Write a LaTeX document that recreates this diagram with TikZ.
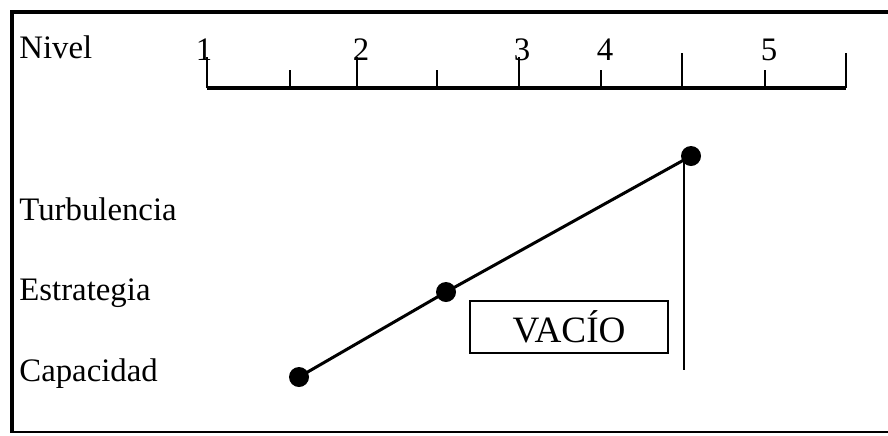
\documentclass[tikz,border=0pt]{standalone}
\usepackage{fontspec}
\setmainfont{Liberation Serif}
\usetikzlibrary{positioning}

\begin{document}
\begin{tikzpicture}[x=0.5pt, y=-0.5pt, line cap=butt,
  etiqueta/.style={anchor=base west, inner sep=0pt, font=\fontsize{16.4}{19}\selectfont},
  cifra/.style={anchor=base, inner sep=0pt, font=\fontsize{16.4}{19}\selectfont},
  punto/.style={circle, fill, inner sep=0pt, minimum size=10pt}]
\useasboundingbox (0,0) rectangle (888,435);
% 边框
\draw[line width=2.4pt] (888,12) -- (12,12) -- (12,433);
\draw[line width=1pt] (12,432) -- (888,432);
% 标尺
\draw[line width=2pt] (207,88) -- (846,88);
\foreach \x/\t in {207/57, 290/70, 357/57, 437/70, 519/57, 601/70, 682/53, 765/70, 846/53}
  \draw[line width=1.1pt] (\x,88) -- (\x,\t);
\node[etiqueta] (nivel) at (19,58) {Nivel};
\foreach \x/\n in {204/1, 361/2, 522/3, 605/4, 769/5}
  \node[cifra] (n\n) at (\x,60) {\n};
% 左侧标签
\node[etiqueta] (turb) at (19,220) {Turbulencia};
\node[etiqueta] (estr) at (19,300) {Estrategia};
\node[etiqueta] (capa) at (19,381) {Capacidad};
% 折线与端点
\node[punto] (pC) at (299,377) {};
\node[punto] (pE) at (446,292) {};
\node[punto] (pT) at (691,156) {};
\coordinate (pie) at (684,370);
\draw[line width=1.5pt] (pC.center) -- (pE.center) -- (pT.center);
\draw[line width=1.1pt] (pT.center -| pie) -- (pie);
% 空白框
\node[draw, line width=1pt, minimum width=99pt, minimum height=26pt, inner sep=0pt,
  font=\fontsize{18.6}{21}\selectfont] (vacio) at (569,327) {VACÍO};
\end{tikzpicture}
\end{document}
